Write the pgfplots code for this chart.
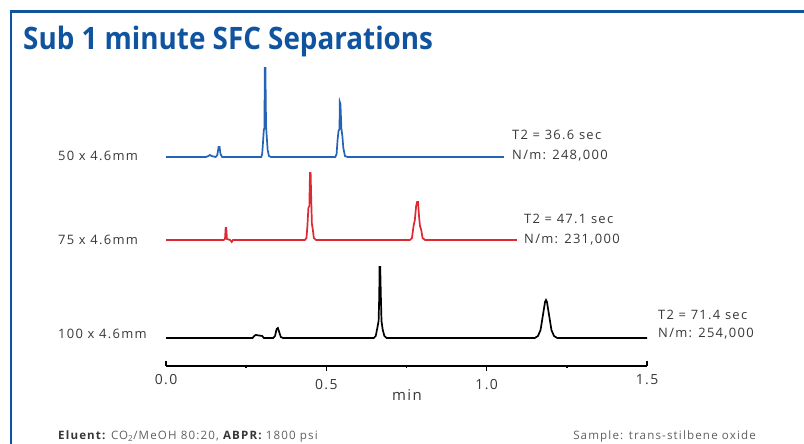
\documentclass[border=0pt]{standalone}
\usepackage{pgfplots}
\pgfplotsset{compat=1.18}
\usepackage{fontspec}
\setmainfont{Open Sans}
\newfontfamily\labfont{Open Sans}[LetterSpace=10]
\definecolor{frameblue}{RGB}{16,84,160}
\definecolor{traceblue}{RGB}{35,100,180}
\definecolor{tracered}{RGB}{222,40,50}
\definecolor{labgray}{RGB}{55,55,55}
\definecolor{footgray}{RGB}{95,95,95}

\begin{document}
\begin{tikzpicture}
\begin{scope}[x=1bp,y=1bp]
\path[use as bounding box] (0,0) rectangle (804,444);
% frame and title
\draw[frameblue, line width=2.5bp] (11,0) -- (11,432.5) -- (804,432.5);
\node[anchor=base west, text=frameblue, inner sep=0] at (23,394)
  {\scalebox{0.9}[1]{\fontsize{31}{31}\selectfont\bfseries Sub 1 minute SFC Separations}};
\end{scope}

\begin{axis}[
    at={(166bp,78bp)}, anchor=south west,
    scale only axis, width=481bp, height=300bp,
    xmin=0, xmax=1.5, ymin=0, ymax=300,
    clip=false,
    axis x line*=bottom, axis y line=none,
    axis line style={line width=2bp, black},
    xtick={0.5,1.0},
    xticklabels={0.5,1.0},
    minor xtick={0.25,0.75,1.25},
    tick align=outside,
    major tick length=5bp, minor tick length=2.5bp,
    every tick/.style={black, line width=1.5bp},
    extra x ticks={0,1.5},
    extra x tick labels={0.0,1.5},
    extra x tick style={tick align=inside, major tick length=5bp},
    ytick=\empty,
    xticklabel style={font=\labfont\fontsize{14}{14}\selectfont, text=labgray, yshift=-5bp},
    xlabel={min},
    xlabel style={at={(axis description cs:0.501,-0.097)}, anchor=center,
      font=\labfont\fontsize{15}{15}\selectfont, text=labgray},
]
% 50 x 4.6mm
\addplot[traceblue, line width=1.7bp] coordinates {
 (0,209) (0.125,209) (0.132,210) (0.137,211) (0.142,210) (0.155,209)
 (0.160,211) (0.164,219) (0.167,219) (0.170,212) (0.175,209)
 (0.297,209) (0.300,212) (0.303,226) (0.305,236) (0.307,238)
 (0.308,298) (0.310,298) (0.312,240) (0.314,230) (0.317,216) (0.321,210) (0.327,209)
 (0.528,209) (0.532,212) (0.535,226) (0.538,235) (0.541,237)
 (0.542,264) (0.544,262) (0.547,237) (0.550,230) (0.553,218) (0.558,210) (0.566,209)
 (1.054,209)};
% 75 x 4.6mm
\addplot[tracered, line width=1.7bp] coordinates {
 (0,126) (0.180,126) (0.184,127) (0.186,138) (0.188,138) (0.190,127) (0.200,126)
 (0.205,124) (0.209,126)
 (0.433,126) (0.438,128) (0.441,140) (0.444,158) (0.447,160)
 (0.449,193) (0.451,193) (0.453,165) (0.455,142) (0.458,136) (0.461,128) (0.468,126)
 (0.761,126) (0.767,128) (0.772,140) (0.776,146) (0.780,160)
 (0.783,164) (0.786,164) (0.789,150) (0.792,140) (0.796,136) (0.800,128) (0.808,126)
 (1.094,126)};
% 100 x 4.6mm
\addplot[black, line width=1.7bp] coordinates {
 (0,28) (0.270,28) (0.275,30) (0.280,31) (0.300,30) (0.305,28)
 (0.334,28) (0.340,30) (0.345,37) (0.349,38) (0.353,34) (0.358,29) (0.365,28)
 (0.648,28) (0.654,30) (0.659,38) (0.663,45) (0.665,70)
 (0.666,99) (0.668,99) (0.670,70) (0.672,45) (0.676,36) (0.681,30) (0.688,28)
 (1.150,28) (1.160,30) (1.168,36) (1.174,48) (1.178,56) (1.182,64)
 (1.185,66) (1.188,64) (1.192,56) (1.196,48) (1.202,36) (1.210,30) (1.220,28)
 (1.5,28)};
\end{axis}

\begin{scope}[x=1bp,y=1bp]
% trace labels
\begin{scope}[every node/.style={anchor=west, inner sep=0, text=labgray,
    font=\labfont\fontsize{13}{13}\selectfont}]
\node at (58,288) {50 x 4.6mm};
\node at (58,204) {75 x 4.6mm};
\node at (58,110) {100 x 4.6mm};
\node at (512,309) {T2 = 36.6 sec};
\node at (512,288) {N/m: 248,000};
\node at (524,225) {T2 = 47.1 sec};
\node at (524,204) {N/m: 231,000};
\node at (658,129) {T2 = 71.4 sec};
\node at (658,110) {N/m: 254,000};
\end{scope}
% footer
\node[anchor=west, inner sep=0, text=footgray, font=\labfont\fontsize{11.6}{11.6}\selectfont]
  at (58,7) {\textcolor{labgray}{\bfseries Eluent:} CO\textsubscript{2}/MeOH 80:20, \textcolor{labgray}{\bfseries ABPR:} 1800 psi};
\node[anchor=east, inner sep=0, text=footgray, font=\labfont\fontsize{11.6}{11.6}\selectfont]
  at (756,7) {Sample: trans-stilbene oxide};
\end{scope}
\end{tikzpicture}
\end{document}
